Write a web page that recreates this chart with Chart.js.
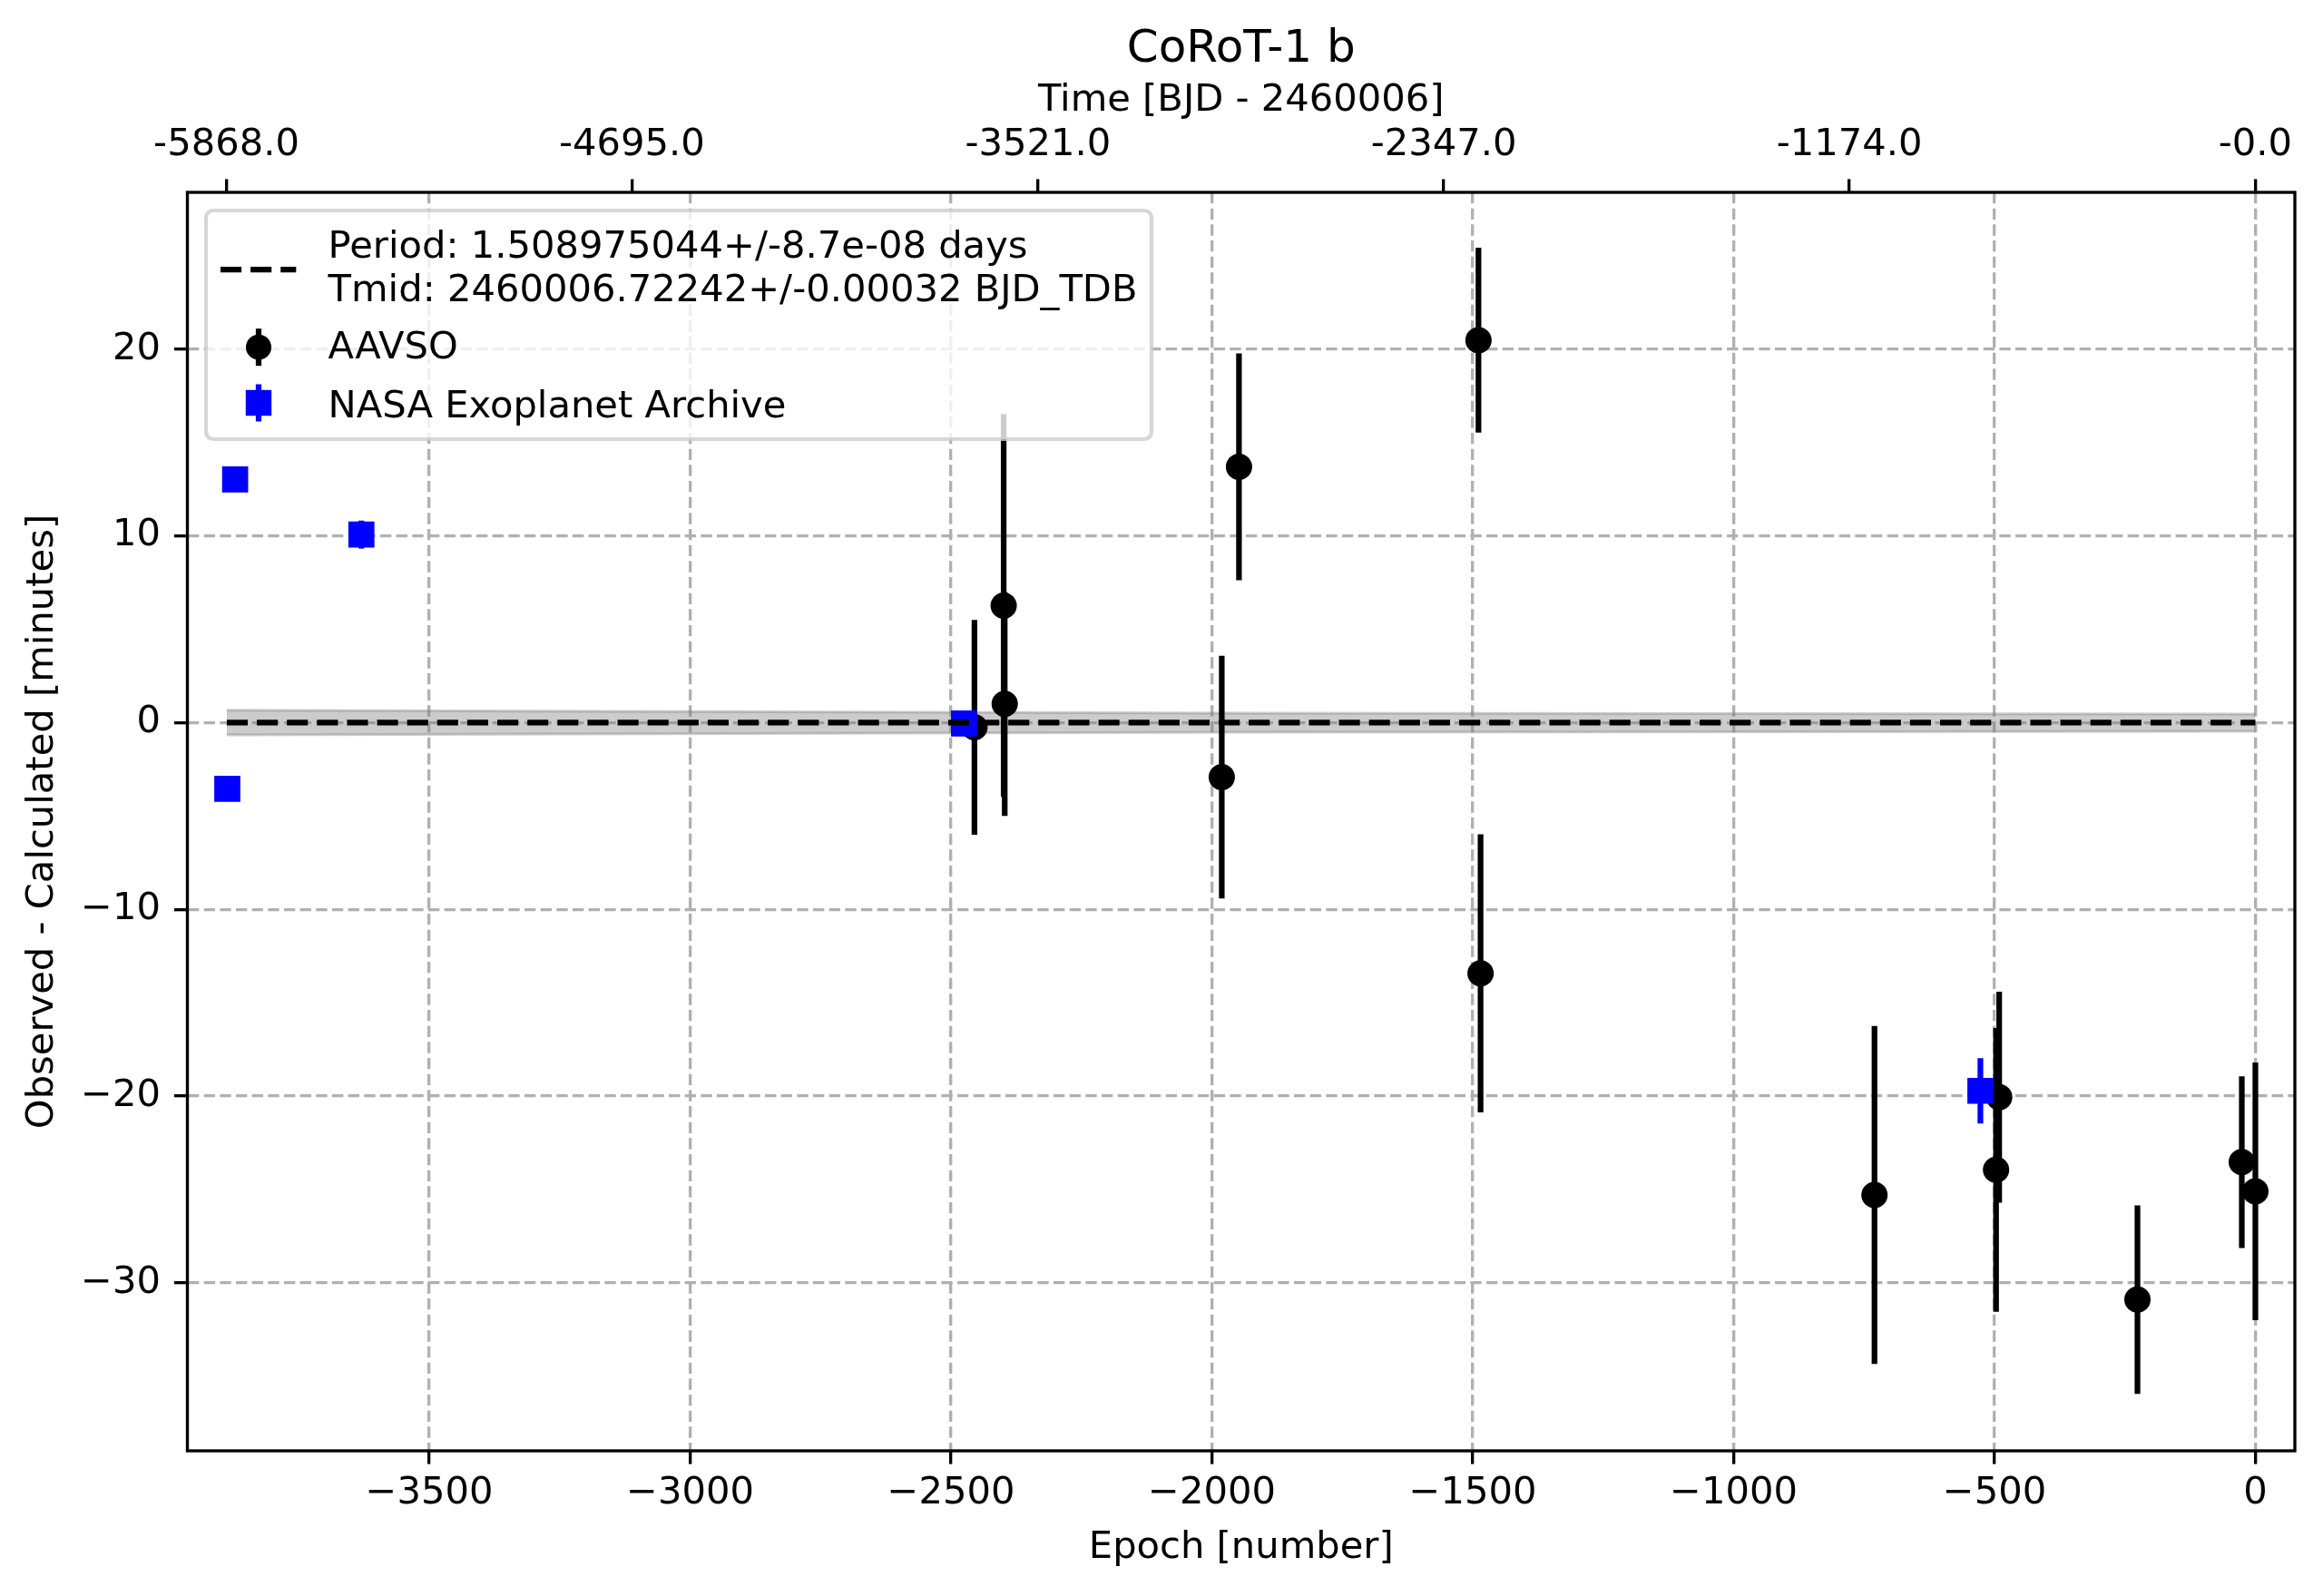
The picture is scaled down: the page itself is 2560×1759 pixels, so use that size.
<!DOCTYPE html>
<html><head><meta charset="utf-8">
<script src="https://cdn.jsdelivr.net/npm/chart.js@4.4.1/dist/chart.umd.min.js"></script>
<style>html,body{margin:0;padding:0;background:#fff;}canvas{display:block;}</style>
</head><body>
<canvas id="c" width="2560" height="1759" style="width:2560px;height:1759px"></canvas>
<script>
// ---------- text ----------
const chartTitle = 'CoRoT-1 b';
const xLabel = 'Epoch [number]';
const yLabel = 'Observed - Calculated [minutes]';
const topLabel = 'Time [BJD - 2460006]';
const legendFitLines = ['Period: 1.508975044+/-8.7e-08 days', 'Tmid: 2460006.72242+/-0.00032 BJD_TDB'];
const aavsoName = 'AAVSO';
const nasaName = 'NASA Exoplanet Archive';

// ---------- data ----------
const aavsoEpoch = [-2455, -2399, -2397, -1981, -1948, -1489, -1485, -730, -497, -491, -226, -26, 0];
const aavsoOC    = [-0.25, 6.27, 1.0, -2.92, 13.7, 20.48, -13.43, -25.3, -23.95, -20.06, -30.9, -23.54, -25.1];
const aavsoErr   = [5.75, 10.25, 6.0, 6.5, 6.07, 4.95, 7.45, 9.05, 7.6, 5.65, 5.05, 4.6, 6.9];

const nasaEpoch = [-3887, -3872, -3630, -2475, -527];
const nasaOC    = [-3.54, 13.03, 10.07, -0.05, -19.72];
const nasaErr   = [0.4, 0.4, 0.75, 0.4, 1.75];

const fitEpoch  = [-3888, 0];
const fitOC     = [0, 0];
const bandEpoch = [-3888, -1944, 0];
const bandHalf  = [0.66, 0.51, 0.46];

const xTicks = [-3500, -3000, -2500, -2000, -1500, -1000, -500, 0];
const yTicks = [-30, -20, -10, 0, 10, 20];
const topTickEpochs = [-3888.7, -3111.4, -2333.4, -1555.4, -778.0, 0];
const topTickLabels = ['-5868.0', '-4695.0', '-3521.0', '-2347.0', '-1174.0', '-0.0'];

const xMin = -3963.5, xMax = 75.7, yMin = -39.0, yMax = 28.4;

// ---------- helpers ----------
const PT = 300 / 72;
const FS = 10 * PT;
const FONT = "'DejaVu Sans', sans-serif";
const fmtMinus = v => (v < 0 ? '\u2212' : '') + Math.abs(v);
const pts = (xs, ys) => xs.map((x, i) => ({x: x, y: ys[i]}));

Chart.defaults.font.family = FONT;
Chart.defaults.font.size = FS;
Chart.defaults.color = '#000';

const errorBars = {
  id: 'errorBars',
  beforeDatasetDraw(chart, args) {
    const ds = chart.data.datasets[args.index];
    if (!ds.errorValues) return;
    const ctx = chart.ctx, x = chart.scales.x, y = chart.scales.y;
    ctx.save();
    ctx.strokeStyle = ds.errorColor;
    ctx.lineWidth = 1.5 * PT;
    ctx.lineCap = 'butt';
    ds.data.forEach((p, i) => {
      const e = ds.errorValues[i];
      const px = x.getPixelForValue(p.x);
      ctx.beginPath();
      ctx.moveTo(px, y.getPixelForValue(p.y - e));
      ctx.lineTo(px, y.getPixelForValue(p.y + e));
      ctx.stroke();
    });
    ctx.restore();
  }
};

const frameAndLegend = {
  id: 'frameAndLegend',
  afterDatasetsDraw(chart) {
    const ctx = chart.ctx, ca = chart.chartArea;
    ctx.save();
    ctx.strokeStyle = '#000';
    ctx.lineWidth = 0.8 * PT;
    ctx.strokeRect(ca.left, ca.top, ca.right - ca.left, ca.bottom - ca.top);
    ctx.restore();
  },
  afterDraw(chart) {
    const ctx = chart.ctx, ca = chart.chartArea;
    ctx.save();
    // title
    ctx.fillStyle = '#000';
    ctx.font = (12 * PT) + 'px ' + FONT;
    ctx.textAlign = 'center';
    ctx.textBaseline = 'alphabetic';
    ctx.fillText(chartTitle, (ca.left + ca.right) / 2, 68);
    // legend box
    const L = ca.left + 20.5, T = ca.top + 20, W = 1042, H = 252, r = 8;
    ctx.beginPath();
    ctx.moveTo(L + r, T);
    ctx.arcTo(L + W, T, L + W, T + H, r);
    ctx.arcTo(L + W, T + H, L, T + H, r);
    ctx.arcTo(L, T + H, L, T, r);
    ctx.arcTo(L, T, L + W, T, r);
    ctx.closePath();
    ctx.fillStyle = 'rgba(255,255,255,0.8)';
    ctx.fill();
    ctx.strokeStyle = 'rgba(204,204,204,0.8)';
    ctx.lineWidth = 1 * PT;
    ctx.stroke();
    // handle: fit line
    ctx.strokeStyle = '#000';
    ctx.lineWidth = 1.5 * PT;
    ctx.setLineDash([3.7 * 1.5 * PT, 1.6 * 1.5 * PT]);
    ctx.beginPath();
    ctx.moveTo(L + 16, T + 65);
    ctx.lineTo(L + 16 + 2 * FS, T + 65);
    ctx.stroke();
    ctx.setLineDash([]);
    // handle: AAVSO
    const hx = L + 58;
    ctx.beginPath();
    ctx.moveTo(hx, T + 150.7 - 20.5);
    ctx.lineTo(hx, T + 150.7 + 20.5);
    ctx.stroke();
    ctx.fillStyle = '#000';
    ctx.beginPath();
    ctx.arc(hx, T + 150.7, 14, 0, Math.PI * 2);
    ctx.fill();
    // handle: NASA
    ctx.strokeStyle = '#0000ff';
    ctx.beginPath();
    ctx.moveTo(hx, T + 212 - 20.5);
    ctx.lineTo(hx, T + 212 + 20.5);
    ctx.stroke();
    ctx.fillStyle = '#0000ff';
    ctx.fillRect(hx - 14.2, T + 212 - 14.2, 28.4, 28.4);
    // texts
    ctx.fillStyle = '#000';
    ctx.font = FS + 'px ' + FONT;
    ctx.textAlign = 'left';
    ctx.fillText(legendFitLines[0], L + 134.6, T + 52);
    ctx.fillText(legendFitLines[1], L + 134.6, T + 100.3);
    ctx.fillText(aavsoName, L + 134.6, T + 163);
    ctx.fillText(nasaName, L + 134.6, T + 228);
    ctx.restore();
  }
};

const gridCommon = {
  color: '#b0b0b0',
  lineWidth: 0.8 * PT,
  tickColor: '#000',
  tickWidth: 0.8 * PT,
  tickLength: 3.5 * PT,
  tickBorderDash: [],
  drawTicks: true
};

new Chart(document.getElementById('c'), {
  type: 'scatter',
  data: {
    datasets: [
      {
        type: 'line', data: pts(bandEpoch, bandHalf), order: 10,
        borderColor: 'rgba(128,128,128,0.4)', borderWidth: 3, pointRadius: 0, fill: false, tension: 0
      },
      {
        type: 'line', data: pts(bandEpoch, bandHalf.map(v => -v)), order: 9,
        borderColor: 'rgba(128,128,128,0.4)', borderWidth: 3, pointRadius: 0,
        fill: '-1', backgroundColor: 'rgba(128,128,128,0.4)', tension: 0
      },
      {
        label: aavsoName, data: pts(aavsoEpoch, aavsoOC), order: 3,
        pointStyle: 'circle', pointRadius: 14.5, pointBackgroundColor: '#000', pointBorderWidth: 0,
        errorValues: aavsoErr, errorColor: '#000'
      },
      {
        label: nasaName, data: pts(nasaEpoch, nasaOC), order: 2,
        pointStyle: 'rect', pointRadius: 20.3, pointBackgroundColor: '#0000ff', pointBorderWidth: 0,
        errorValues: nasaErr, errorColor: '#0000ff'
      },
      {
        type: 'line', data: pts(fitEpoch, fitOC), order: 1,
        borderColor: '#000', borderWidth: 1.5 * PT, borderDash: [3.7 * 1.5 * PT, 1.6 * 1.5 * PT],
        borderCapStyle: 'butt', pointRadius: 0, fill: false
      }
    ]
  },
  options: {
    responsive: false,
    animation: false,
    devicePixelRatio: 1,
    layout: {padding: {left: 0, top: 0, right: 31, bottom: 0}},
    plugins: {legend: {display: false}, tooltip: {enabled: false}, title: {display: false}},
    events: [],
    scales: {
      x: {
        type: 'linear', position: 'bottom', min: xMin, max: xMax,
        afterBuildTicks: s => { s.ticks = xTicks.map(v => ({value: v})); },
        afterFit: s => { s.height = 160; },
        ticks: {callback: v => fmtMinus(v), padding: 7.7, maxRotation: 0, font: {size: FS, lineHeight: 1.2}},
        grid: Object.assign({}, gridCommon),
        border: {display: false, dash: [3.7 * 0.8 * PT, 1.6 * 0.8 * PT]},
        title: {display: true, text: xLabel, font: {size: FS, lineHeight: 1.2}, padding: {top: 0, bottom: 27.7}}
      },
      x2: {
        type: 'linear', position: 'top', min: xMin, max: xMax,
        afterBuildTicks: s => { s.ticks = topTickEpochs.map(v => ({value: v})); },
        afterFit: s => { s.height = 212; },
        ticks: {callback: (v, i) => topTickLabels[i], padding: 11.8, maxRotation: 0, font: {size: FS, lineHeight: 1.2}},
        grid: Object.assign({}, gridCommon, {drawOnChartArea: false}),
        border: {display: false},
        title: {display: true, text: topLabel, font: {size: FS, lineHeight: 1.2}, padding: {top: 86.6, bottom: 0}}
      },
      y: {
        type: 'linear', position: 'left', min: yMin, max: yMax,
        afterBuildTicks: s => { s.ticks = yTicks.map(v => ({value: v})); },
        afterFit: s => { s.width = 206.5; },
        ticks: {callback: v => fmtMinus(v), padding: 14.9, font: {size: FS, lineHeight: 1.2}},
        grid: Object.assign({}, gridCommon),
        border: {display: false, dash: [3.7 * 0.8 * PT, 1.6 * 0.8 * PT]},
        title: {display: true, text: yLabel, font: {size: FS, lineHeight: 1.2}, padding: {top: 22.6, bottom: 0}}
      }
    }
  },
  plugins: [errorBars, frameAndLegend]
});
</script>
</body></html>
